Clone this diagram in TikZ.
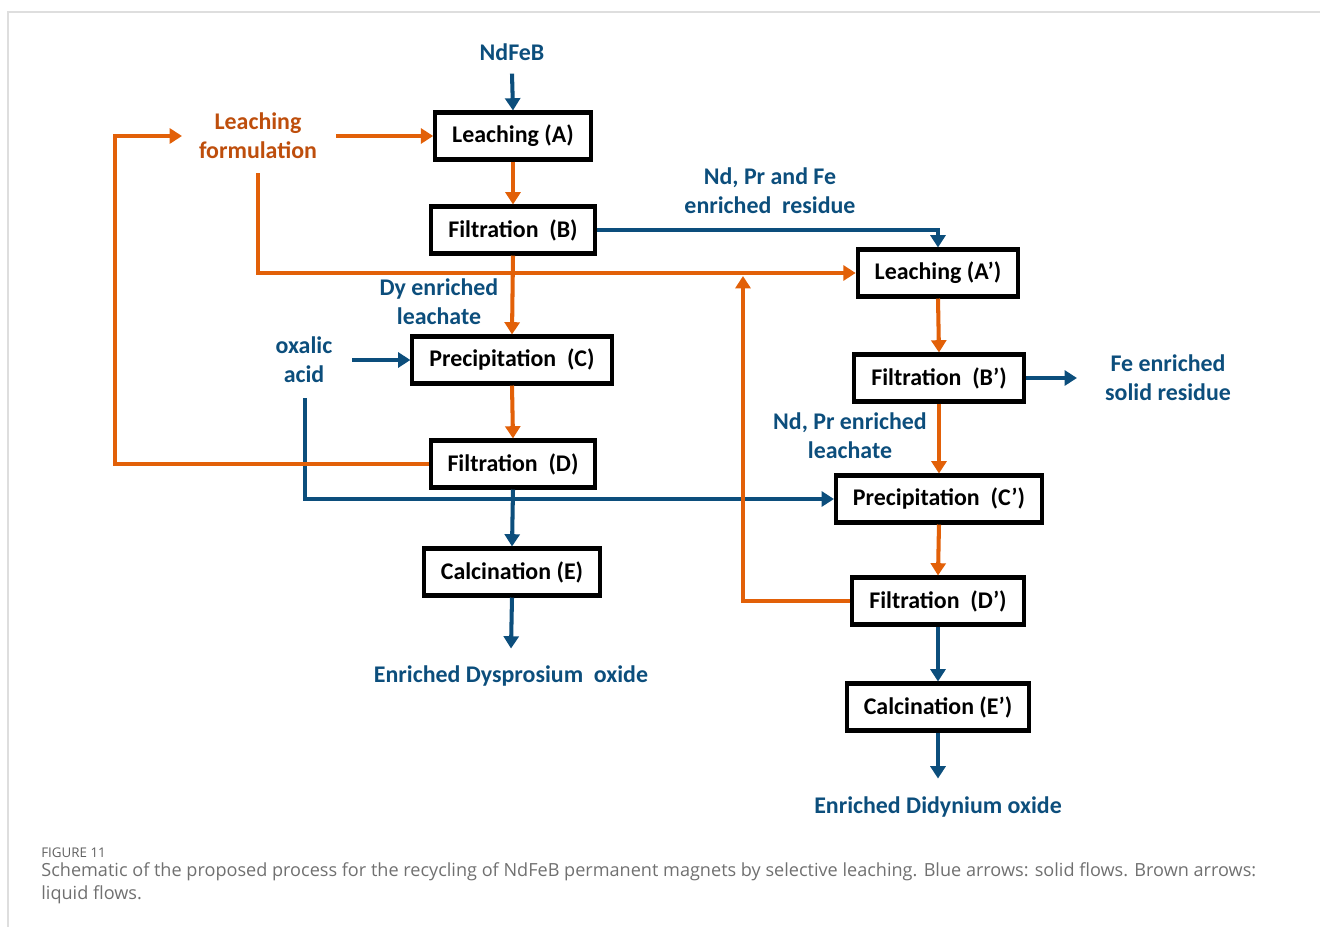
\documentclass[tikz,border=0pt]{standalone}
\usepackage{fontspec}
\setmainfont{Carlito}
\newfontfamily\captionfont{Open Sans}
\usetikzlibrary{positioning,%
  arrows.meta,%
  calc}
\definecolor{solidblue}{RGB}{12,78,124}
\definecolor{liquidorange}{RGB}{226,96,8}
\definecolor{formbrown}{RGB}{190,78,12}
\definecolor{capgray}{RGB}{112,112,112}

\begin{document}
\begin{tikzpicture}
                    [
                        x=0.02cm, y=-0.02cm,
                        every node/.style={font=\bfseries\fontsize{13.6}{16.5}\selectfont},
                        unit/.style={draw=black, line width=2.3pt, fill=white, inner xsep=0.34cm, minimum height=0.94cm},
                        lbl/.style={text=solidblue, align=center},
                        solidflow/.style={draw=solidblue, line width=2.3pt, -{Triangle[length=7pt,width=8.5pt]}},
                        liquidflow/.style={draw=liquidorange, line width=2.3pt, -{Triangle[length=7pt,width=8.5pt]}}
                    ]

                    % Rahmen
                    \useasboundingbox (0,0) rectangle (1320,927);
                    \draw[black!13, line width=0.8pt] (1320,12) -- (8,12) -- (8,927);

                    % linke Linie
                    \node[lbl] (ndfeb) at (512,52) {NdFeB};
                    \node[unit] (A) at (513,136) {Leaching (A)};
                    \node[unit] (B) at (513,230) {Filtration\ \ (B)};
                    \node[unit] (C) at (512,360) {Precipitation\ \ (C)};
                    \node[unit] (D) at (513,464) {Filtration\ \ (D)};
                    \node[unit] (E) at (512,572) {Calcination (E)};
                    \node[lbl] (dys) at (511,676) {Enriched Dysprosium\ \ oxide};

                    % rechte Linie
                    \node[unit] (A2) at (938,273) {Leaching (A’)};
                    \node[unit] (B2) at (939,378) {Filtration\ \ (B’)};
                    \node[unit] (C2) at (939,499) {Precipitation\ \ (C’)};
                    \node[unit] (D2) at (938,601) {Filtration\ \ (D’)};
                    \node[unit] (E2) at (938,707) {Calcination (E’)};
                    \node[lbl] (did) at (938,807) {Enriched Didynium oxide};

                    % Beschriftungen
                    \node[align=center, text=formbrown] (form) at (258,136) {Leaching\\formulation};
                    \node[lbl] (resid) at (770,191) {Nd, Pr and Fe\\enriched\ \ residue};
                    \node[lbl] (dyleach) at (439,302) {Dy enriched\\leachate};
                    \node[lbl] (oxalic) at (304,360) {oxalic\\acid};
                    \node[lbl] (fesolid) at (1168,378) {Fe enriched\\solid residue};
                    \node[lbl] (ndleach) at (850,436) {Nd, Pr enriched\\leachate};

                    \coordinate (loopin) at (182,136);
                    \coordinate (merge) at (743,276);

                    % Feststoff
                    \draw[solidflow] (ndfeb.south) ++(0,-0.14cm) -- (A.north);
                    \draw[solidflow] (B.east) -| (A2.north);
                    \draw[solidflow] (352,360) -- (C.west);
                    \draw[solidflow] (305,398) |- (C2.west);
                    \draw[solidflow] (D.south) -- (E.north);
                    \draw[solidflow] (E.south) -- ([yshift=0.22cm]dys.north);
                    \draw[solidflow] (B2.east) -- ([xshift=-0.44cm]fesolid.west);
                    \draw[solidflow] (D2.south) -- (E2.north);
                    \draw[solidflow] (E2.south) -- ([yshift=0.24cm]did.north);

                    % Fluessigkeit
                    \draw[liquidflow] (336,136) -- (A.west);
                    \draw[liquidflow] (D.west) -| (115,136) -- (loopin);
                    \draw[liquidflow] (258,173) |- (A2.west);
                    \draw[liquidflow] (D2.west) -| (merge);
                    \draw[liquidflow] (A.south) -- (B.north);
                    \draw[liquidflow] (B.south) -- (C.north);
                    \draw[liquidflow] (C.south) -- (D.north);
                    \draw[liquidflow] (A2.south) -- (B2.north);
                    \draw[liquidflow] (B2.south) -- (C2.north);
                    \draw[liquidflow] (C2.south) -- (D2.north);

                    % Bildunterschrift
                    \node[anchor=base west, inner sep=0pt, text=black!62, font=\captionfont\fontsize{7.6}{9}\selectfont] (fig) at (41,857) {FIGURE 11};
                    \node[anchor=north west, inner sep=0pt, align=left, text=capgray, font=\captionfont\fontsize{10.3}{13.1}\selectfont] (cap) at (41,862) {Schematic of the proposed process for the recycling of NdFeB permanent magnets by selective leaching. Blue arrows: solid flows. Brown arrows:\\liquid flows.};
                \end{tikzpicture}
\end{document}
